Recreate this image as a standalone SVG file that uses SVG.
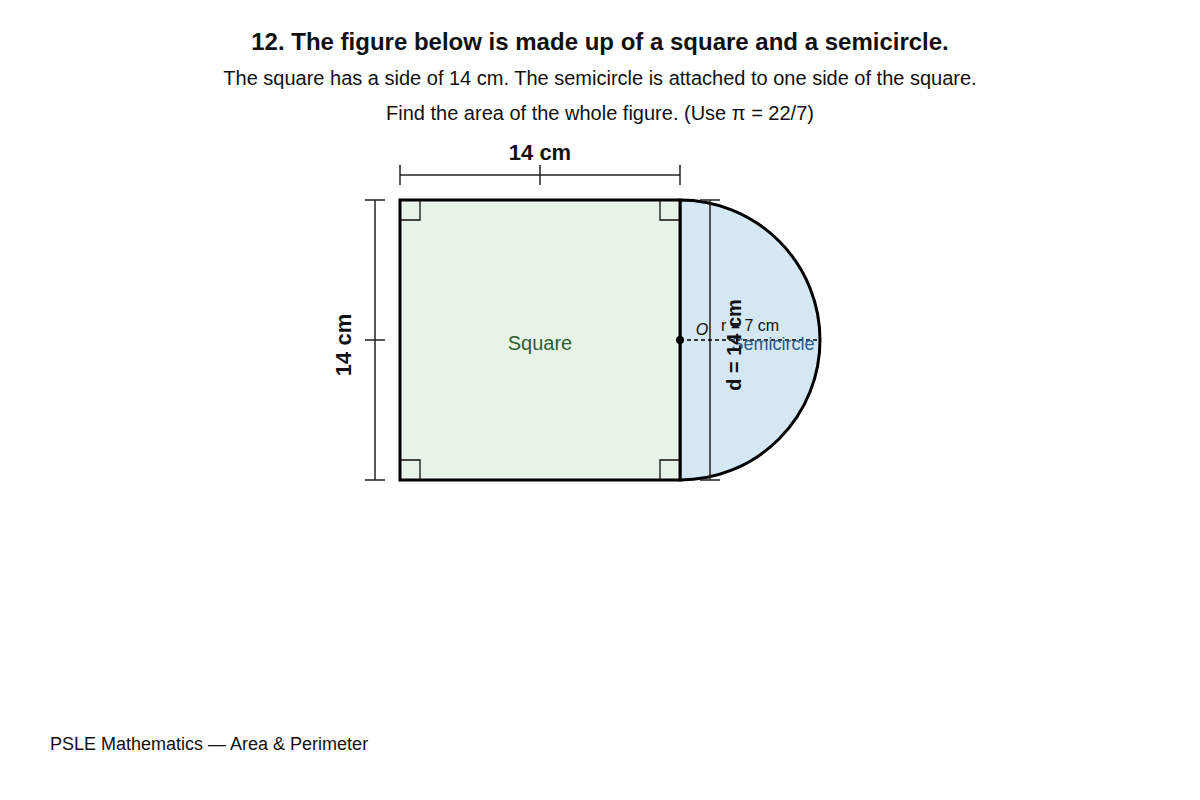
<svg xmlns="http://www.w3.org/2000/svg" width="1200" height="800" viewBox="0 0 1200 800">
<style>
text{font-family:"Liberation Sans",Arial,sans-serif;}
.dim{stroke:#222;stroke-width:1.5;fill:none;}
.ra{stroke:#111;stroke-width:1.3;fill:none;}
.bold{font-weight:bold;fill:#111;}
</style>
<rect width="1200" height="800" fill="#fff"/>
<text x="600" y="50" text-anchor="middle" font-size="24" class="bold">12. The figure below is made up of a square and a semicircle.</text>
<text x="600" y="85" text-anchor="middle" font-size="20" fill="#111">The square has a side of 14 cm. The semicircle is attached to one side of the square.</text>
<text x="600" y="120" text-anchor="middle" font-size="20" fill="#111">Find the area of the whole figure. (Use π = 22/7)</text>
<g id="semicircle">
<path d="M680 200 A140 140 0 0 1 680 480 Z" fill="#d4e7f3" stroke="#000" stroke-width="3"/>
</g>
<g id="square">
<rect x="400" y="200" width="280" height="280" fill="#e8f3e8" stroke="#000" stroke-width="3"/>
<path class="ra" d="M400 220 H420 V200 M660 200 V220 H680 M400 460 H420 V480 M660 480 V460 H680"/>
<text x="540" y="350" text-anchor="middle" font-size="20" fill="#2e6130">Square</text>
</g>
<g id="connectors">
<path class="dim" d="M400 175 H680 M400 165 V185 M540 165 V185 M680 165 V185"/>
<path class="dim" d="M375 200 V480 M365 200 H385 M365 340 H385 M365 480 H385"/>
<path class="dim" d="M710 200 V480 M700 200 H720 M700 480 H720"/>
<line x1="680" y1="340" x2="820" y2="340" stroke="#000" stroke-width="1.4" stroke-dasharray="4,3"/>
<circle cx="680" cy="340" r="4" fill="#000"/>
</g>
<text x="540" y="160" text-anchor="middle" font-size="22" class="bold">14 cm</text>
<text transform="translate(351,345) rotate(-90)" text-anchor="middle" font-size="22" class="bold">14 cm</text>
<text x="702" y="335" text-anchor="middle" font-size="16" font-style="italic" fill="#111">O</text>
<text x="750" y="331" text-anchor="middle" font-size="16" fill="#111">r = 7 cm</text>
<text x="773" y="350" text-anchor="middle" font-size="18" fill="#2e5c8a">Semicircle</text>
<text transform="translate(741,345) rotate(-90)" text-anchor="middle" font-size="20" class="bold">d = 14 cm</text>
<text x="50" y="750" font-size="18" fill="#111">PSLE Mathematics — Area &amp; Perimeter</text>
</svg>
